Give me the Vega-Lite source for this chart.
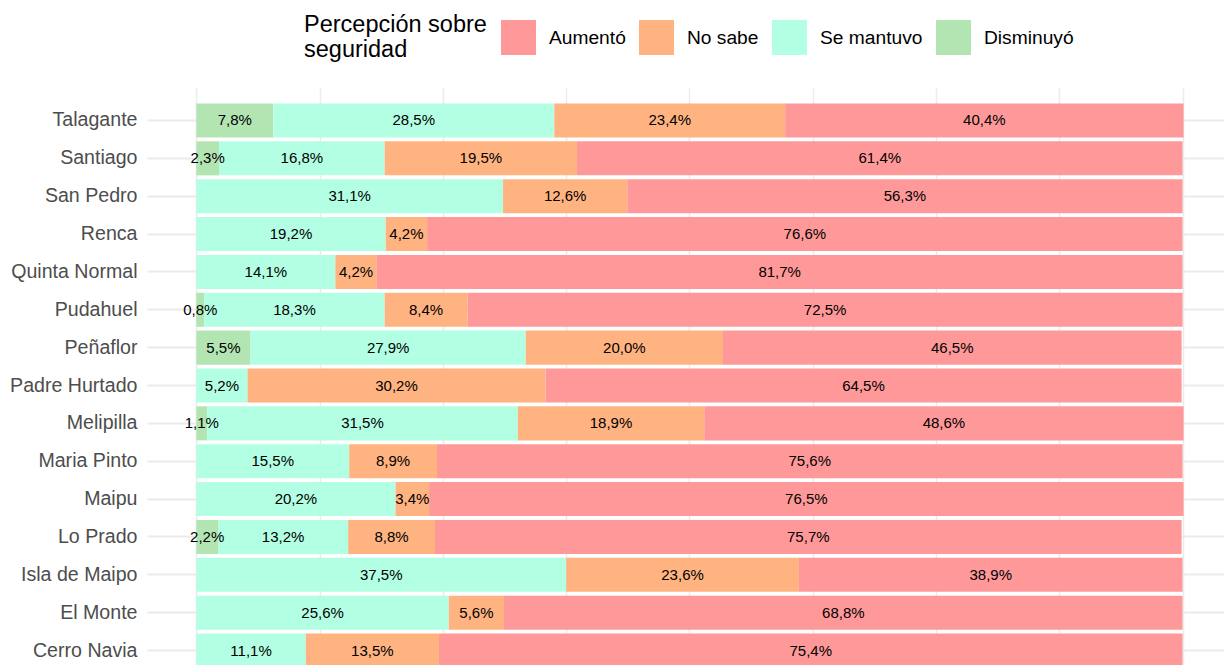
{
  "$schema": "https://vega.github.io/schema/vega-lite/v6.json",
  "width": 1077,
  "height": 568,
  "autosize": {"type": "none"},
  "padding": {"left": 147, "top": 97, "right": 0, "bottom": 0},
  "background": "white",
  "config": {"view": {"stroke": null}, "font": "Liberation Sans"},
  "data": {"values": [
    {"comuna": "Talagante", "respuesta": "Disminuyó", "pct": 7.8},
    {"comuna": "Talagante", "respuesta": "Se mantuvo", "pct": 28.5},
    {"comuna": "Talagante", "respuesta": "No sabe", "pct": 23.4},
    {"comuna": "Talagante", "respuesta": "Aumentó", "pct": 40.4},
    {"comuna": "Santiago", "respuesta": "Disminuyó", "pct": 2.3},
    {"comuna": "Santiago", "respuesta": "Se mantuvo", "pct": 16.8},
    {"comuna": "Santiago", "respuesta": "No sabe", "pct": 19.5},
    {"comuna": "Santiago", "respuesta": "Aumentó", "pct": 61.4},
    {"comuna": "San Pedro", "respuesta": "Se mantuvo", "pct": 31.1},
    {"comuna": "San Pedro", "respuesta": "No sabe", "pct": 12.6},
    {"comuna": "San Pedro", "respuesta": "Aumentó", "pct": 56.3},
    {"comuna": "Renca", "respuesta": "Se mantuvo", "pct": 19.2},
    {"comuna": "Renca", "respuesta": "No sabe", "pct": 4.2},
    {"comuna": "Renca", "respuesta": "Aumentó", "pct": 76.6},
    {"comuna": "Quinta Normal", "respuesta": "Se mantuvo", "pct": 14.1},
    {"comuna": "Quinta Normal", "respuesta": "No sabe", "pct": 4.2},
    {"comuna": "Quinta Normal", "respuesta": "Aumentó", "pct": 81.7},
    {"comuna": "Pudahuel", "respuesta": "Disminuyó", "pct": 0.8},
    {"comuna": "Pudahuel", "respuesta": "Se mantuvo", "pct": 18.3},
    {"comuna": "Pudahuel", "respuesta": "No sabe", "pct": 8.4},
    {"comuna": "Pudahuel", "respuesta": "Aumentó", "pct": 72.5},
    {"comuna": "Peñaflor", "respuesta": "Disminuyó", "pct": 5.5},
    {"comuna": "Peñaflor", "respuesta": "Se mantuvo", "pct": 27.9},
    {"comuna": "Peñaflor", "respuesta": "No sabe", "pct": 20.0},
    {"comuna": "Peñaflor", "respuesta": "Aumentó", "pct": 46.5},
    {"comuna": "Padre Hurtado", "respuesta": "Se mantuvo", "pct": 5.2},
    {"comuna": "Padre Hurtado", "respuesta": "No sabe", "pct": 30.2},
    {"comuna": "Padre Hurtado", "respuesta": "Aumentó", "pct": 64.5},
    {"comuna": "Melipilla", "respuesta": "Disminuyó", "pct": 1.1},
    {"comuna": "Melipilla", "respuesta": "Se mantuvo", "pct": 31.5},
    {"comuna": "Melipilla", "respuesta": "No sabe", "pct": 18.9},
    {"comuna": "Melipilla", "respuesta": "Aumentó", "pct": 48.6},
    {"comuna": "Maria Pinto", "respuesta": "Se mantuvo", "pct": 15.5},
    {"comuna": "Maria Pinto", "respuesta": "No sabe", "pct": 8.9},
    {"comuna": "Maria Pinto", "respuesta": "Aumentó", "pct": 75.6},
    {"comuna": "Maipu", "respuesta": "Se mantuvo", "pct": 20.2},
    {"comuna": "Maipu", "respuesta": "No sabe", "pct": 3.4},
    {"comuna": "Maipu", "respuesta": "Aumentó", "pct": 76.5},
    {"comuna": "Lo Prado", "respuesta": "Disminuyó", "pct": 2.2},
    {"comuna": "Lo Prado", "respuesta": "Se mantuvo", "pct": 13.2},
    {"comuna": "Lo Prado", "respuesta": "No sabe", "pct": 8.8},
    {"comuna": "Lo Prado", "respuesta": "Aumentó", "pct": 75.7},
    {"comuna": "Isla de Maipo", "respuesta": "Se mantuvo", "pct": 37.5},
    {"comuna": "Isla de Maipo", "respuesta": "No sabe", "pct": 23.6},
    {"comuna": "Isla de Maipo", "respuesta": "Aumentó", "pct": 38.9},
    {"comuna": "El Monte", "respuesta": "Se mantuvo", "pct": 25.6},
    {"comuna": "El Monte", "respuesta": "No sabe", "pct": 5.6},
    {"comuna": "El Monte", "respuesta": "Aumentó", "pct": 68.8},
    {"comuna": "Cerro Navia", "respuesta": "Se mantuvo", "pct": 11.1},
    {"comuna": "Cerro Navia", "respuesta": "No sabe", "pct": 13.5},
    {"comuna": "Cerro Navia", "respuesta": "Aumentó", "pct": 75.4}
  ]},
  "transform": [
    {"calculate": "indexof(['Disminuyó','Se mantuvo','No sabe','Aumentó'], datum.respuesta)", "as": "ord"},
    {"stack": "pct", "groupby": ["comuna"], "sort": [{"field": "ord", "order": "ascending"}], "as": ["x0", "x1"]},
    {"calculate": "(datum.x0 + datum.x1) / 2", "as": "xm"},
    {"calculate": "replace(format(datum.pct, '.1f'), '.', ',') + '%'", "as": "label"}
  ],
  "encoding": {
    "y": {
      "field": "comuna",
      "type": "nominal",
      "sort": ["Talagante", "Santiago", "San Pedro", "Renca", "Quinta Normal", "Pudahuel", "Peñaflor", "Padre Hurtado", "Melipilla", "Maria Pinto", "Maipu", "Lo Prado", "Isla de Maipo", "El Monte", "Cerro Navia"],
      "scale": {"range": [0, 577], "paddingInner": 0.1, "paddingOuter": 0.17},
      "axis": {
        "title": null,
        "domain": false,
        "ticks": false,
        "labelFontSize": 19.6,
        "labelColor": "#4D4D4D",
        "labelPadding": 10,
        "grid": true,
        "gridColor": "#EBEBEB",
        "gridWidth": 2,
        "bandPosition": 0.5
      }
    }
  },
  "layer": [
    {
      "mark": {"type": "bar", "clip": true},
      "encoding": {
        "x": {
          "field": "x0",
          "type": "quantitative",
          "scale": {"domain": [-5, 104.2], "nice": false, "zero": false},
          "axis": {
            "title": null,
            "labels": false,
            "ticks": false,
            "domain": false,
            "grid": true,
            "gridColor": "#EBEBEB",
            "gridWidth": 1.5,
            "values": [0, 12.5, 25, 37.5, 50, 62.5, 75, 87.5, 100]
          }
        },
        "x2": {"field": "x1"},
        "color": {
          "field": "respuesta",
          "type": "nominal",
          "scale": {
            "domain": ["Aumentó", "No sabe", "Se mantuvo", "Disminuyó"],
            "range": ["#FF9999", "#FFB380", "#B3FFE3", "#B3E5B3"]
          },
          "legend": {
            "orient": "none",
            "legendX": 157,
            "legendY": -77,
            "direction": "horizontal",
            "title": ["Percepción sobre", "seguridad"],
            "titleOrient": "left",
            "titleFontSize": 23.5,
            "titleFontWeight": "normal",
            "titleColor": "black",
            "titleLineHeight": 24.5,
            "titlePadding": 14,
            "titleAnchor": "middle",
            "titleLimit": 400,
            "symbolType": "square",
            "symbolSize": 1225,
            "symbolStrokeWidth": 0,
            "symbolOpacity": 1,
            "labelFontSize": 19.2,
            "labelColor": "black",
            "labelOffset": 13,
            "columnPadding": 13
          }
        }
      }
    },
    {
      "mark": {"type": "text", "clip": true, "fontSize": 15, "color": "black"},
      "encoding": {
        "x": {"field": "xm", "type": "quantitative"},
        "text": {"field": "label"}
      }
    }
  ]
}
